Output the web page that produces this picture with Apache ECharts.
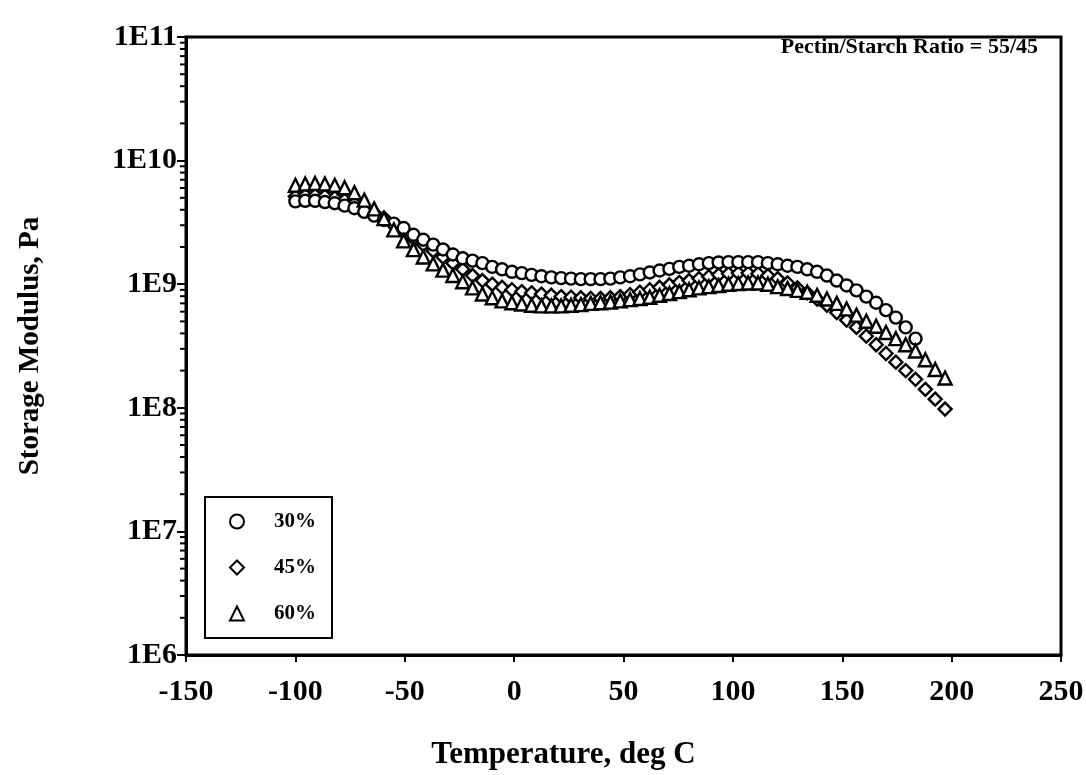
<!DOCTYPE html>
<html>
<head>
<meta charset="utf-8">
<script src="https://cdn.jsdelivr.net/npm/echarts@6/dist/echarts.min.js"></script>
<style>
html,body{margin:0;padding:0;background:#fff;}
#chart{width:1086px;height:775px;}
</style>
</head>
<body>
<div id="chart"></div>
<script>
// Temperature (deg C) of each measurement
const temperature = [-100, -95.5, -91, -86.5, -82, -77.5, -73, -68.5, -64, -59.5, -55, -50.5, -46, -41.5, -37, -32.5, -28, -23.5, -19, -14.5, -10, -5.5, -1, 3.5, 8, 12.5, 17, 21.5, 26, 30.5, 35, 39.5, 44, 48.5, 53, 57.5, 62, 66.5, 71, 75.5, 80, 84.5, 89, 93.5, 98, 102.5, 107, 111.5, 116, 120.5, 125, 129.5, 134, 138.5, 143, 147.5, 152, 156.5, 161, 165.5, 170, 174.5, 179, 183.5, 188, 192.5, 197];

// Storage modulus (Pa), 30% (circles)
const g30 = [4.68e9, 4.73e9, 4.73e9, 4.62e9, 4.52e9, 4.32e9, 4.12e9, 3.85e9, 3.59e9, 3.31e9, 3.09e9, 2.85e9, 2.51e9, 2.29e9, 2.09e9, 1.91e9, 1.74e9, 1.62e9, 1.55e9, 1.48e9, 1.38e9, 1.32e9, 1.26e9, 1.23e9, 1.19e9, 1.16e9, 1.135e9, 1.12e9, 1.11e9, 1.10e9, 1.10e9, 1.10e9, 1.11e9, 1.135e9, 1.16e9, 1.20e9, 1.245e9, 1.29e9, 1.33e9, 1.38e9, 1.41e9, 1.45e9, 1.48e9, 1.50e9, 1.51e9, 1.51e9, 1.51e9, 1.51e9, 1.48e9, 1.45e9, 1.41e9, 1.38e9, 1.32e9, 1.26e9, 1.175e9, 1.07e9, 9.77e8, 8.91e8, 7.94e8, 7.08e8, 6.17e8, 5.37e8, 4.47e8, 3.63e8];

// Storage modulus (Pa), 45% (diamonds)
const g45 = [5.13e9, 5.25e9, 5.25e9, 5.19e9, 5.01e9, 4.79e9, 4.52e9, 4.17e9, 3.80e9, 3.43e9, 3.02e9, 2.69e9, 2.34e9, 2.09e9, 1.86e9, 1.66e9, 1.48e9, 1.32e9, 1.175e9, 1.07e9, 1.0e9, 9.44e8, 9.02e8, 8.71e8, 8.51e8, 8.32e8, 8.13e8, 7.94e8, 7.85e8, 7.76e8, 7.67e8, 7.67e8, 7.76e8, 7.94e8, 8.22e8, 8.61e8, 9.02e8, 9.44e8, 9.89e8, 1.035e9, 1.07e9, 1.11e9, 1.15e9, 1.19e9, 1.215e9, 1.23e9, 1.23e9, 1.215e9, 1.175e9, 1.11e9, 1.023e9, 9.33e8, 8.51e8, 7.59e8, 6.76e8, 5.89e8, 5.13e8, 4.47e8, 3.80e8, 3.24e8, 2.75e8, 2.34e8, 2.0e8, 1.70e8, 1.41e8, 1.175e8, 9.77e7];

// Storage modulus (Pa), 60% (triangles)
const g60 = [6.31e9, 6.46e9, 6.53e9, 6.46e9, 6.31e9, 6.03e9, 5.50e9, 4.79e9, 4.07e9, 3.39e9, 2.75e9, 2.24e9, 1.905e9, 1.66e9, 1.46e9, 1.30e9, 1.175e9, 1.047e9, 9.33e8, 8.32e8, 7.76e8, 7.33e8, 7.08e8, 6.92e8, 6.76e8, 6.68e8, 6.68e8, 6.68e8, 6.76e8, 6.84e8, 7.0e8, 7.08e8, 7.16e8, 7.33e8, 7.50e8, 7.67e8, 7.85e8, 8.13e8, 8.41e8, 8.71e8, 9.02e8, 9.33e8, 9.55e8, 9.77e8, 1.0e9, 1.012e9, 1.023e9, 1.023e9, 1.0e9, 9.55e8, 9.23e8, 8.91e8, 8.61e8, 8.13e8, 7.59e8, 7.0e8, 6.31e8, 5.62e8, 5.01e8, 4.57e8, 4.07e8, 3.63e8, 3.24e8, 2.88e8, 2.45e8, 2.04e8, 1.74e8];

const seriesNames = ['30%', '45%', '60%'];
const xTicks = { min: -150, max: 250, interval: 50 };
const yRange = { min: 1e6, max: 1e11 };
const titleText = 'Pectin/Starch Ratio = 55/45';
const xName = 'Temperature, deg C';
const yName = 'Storage Modulus, Pa';

function pairs(vals) {
  return vals.map((v, i) => [temperature[i], v]);
}

// minor tick positions on the log axis (2..9 x 10^n)
const minorTickValues = [];
for (let e = 6; e < 11; e++) {
  for (let k = 2; k <= 9; k++) minorTickValues.push(k * Math.pow(10, e));
}

const FONT = 'Liberation Serif';
const markerStyle = { color: '#fff', borderColor: '#000', borderWidth: 2.4, opacity: 1 };

const chart = echarts.init(document.getElementById('chart'), null, { renderer: 'canvas' });
chart.setOption({
  animation: false,
  backgroundColor: '#fff',
  title: {
    text: titleText,
    right: 43,
    top: 31,
    textStyle: { fontFamily: FONT, fontWeight: 'bold', fontSize: 22, color: '#000' }
  },
  legend: {
    data: seriesNames,
    orient: 'vertical',
    left: 205,
    top: 497,
    itemWidth: 14,
    itemHeight: 14,
    itemGap: 25,
    padding: [14, 16, 14, 24],
    borderColor: '#000',
    borderWidth: 2,
    textStyle: { fontFamily: FONT, fontWeight: 'bold', fontSize: 21, lineHeight: 20, color: '#000', padding: [0, 0, 0, 25] }
  },
  grid: {
    left: 186, right: 25, top: 37, bottom: 120,
    containLabel: false,
    outerBoundsMode: 'none',
    show: true, borderColor: '#000', borderWidth: 3, backgroundColor: 'transparent'
  },
  xAxis: {
    type: 'value',
    min: xTicks.min, max: xTicks.max, interval: xTicks.interval,
    name: xName,
    nameLocation: 'middle',
    nameGap: 84,
    nameTextStyle: { fontFamily: FONT, fontWeight: 'bold', fontSize: 31, color: '#000', padding: [0, 120, 0, 0] },
    axisLine: { onZero: false, lineStyle: { color: '#000', width: 3 } },
    axisTick: { length: 7, lineStyle: { color: '#000', width: 2 } },
    axisLabel: { fontFamily: FONT, fontWeight: 'bold', fontSize: 30, color: '#000', margin: 22 },
    splitLine: { show: false }
  },
  yAxis: {
    type: 'log',
    logBase: 10,
    min: yRange.min, max: yRange.max,
    name: yName,
    nameLocation: 'middle',
    nameGap: 141,
    nameTextStyle: { fontFamily: FONT, fontWeight: 'bold', fontSize: 29, color: '#000' },
    axisLine: { onZero: false, lineStyle: { color: '#000', width: 3 } },
    axisTick: { length: 9, lineStyle: { color: '#000', width: 2 } },
    axisLabel: {
      fontFamily: FONT, fontWeight: 'bold', fontSize: 30, color: '#000', margin: 9,
      formatter: v => '1E' + Math.round(Math.log10(v))
    },
    splitLine: { show: false },
    minorTick: { show: false }
  },
  series: [
    {
      type: 'custom',
      name: 'minorTicks',
      silent: true,
      clip: false,
      z: 5,
      data: minorTickValues.map(v => [xTicks.min, v]),
      renderItem: function (params, api) {
        const p = api.coord([api.value(0), api.value(1)]);
        return {
          type: 'line',
          shape: { x1: p[0] - 6, y1: p[1], x2: p[0], y2: p[1] },
          style: { stroke: '#000', lineWidth: 2 }
        };
      }
    },
    {
      name: '45%', type: 'scatter', symbol: 'diamond', symbolSize: 13,
      itemStyle: markerStyle, data: pairs(g45), z: 2
    },
    {
      name: '30%', type: 'scatter', symbol: 'circle', symbolSize: 12,
      itemStyle: markerStyle, data: pairs(g30), z: 3
    },
    {
      name: '60%', type: 'scatter', symbol: 'triangle', symbolSize: 13,
      itemStyle: markerStyle, data: pairs(g60), z: 4
    }
  ]
});
</script>
</body>
</html>
